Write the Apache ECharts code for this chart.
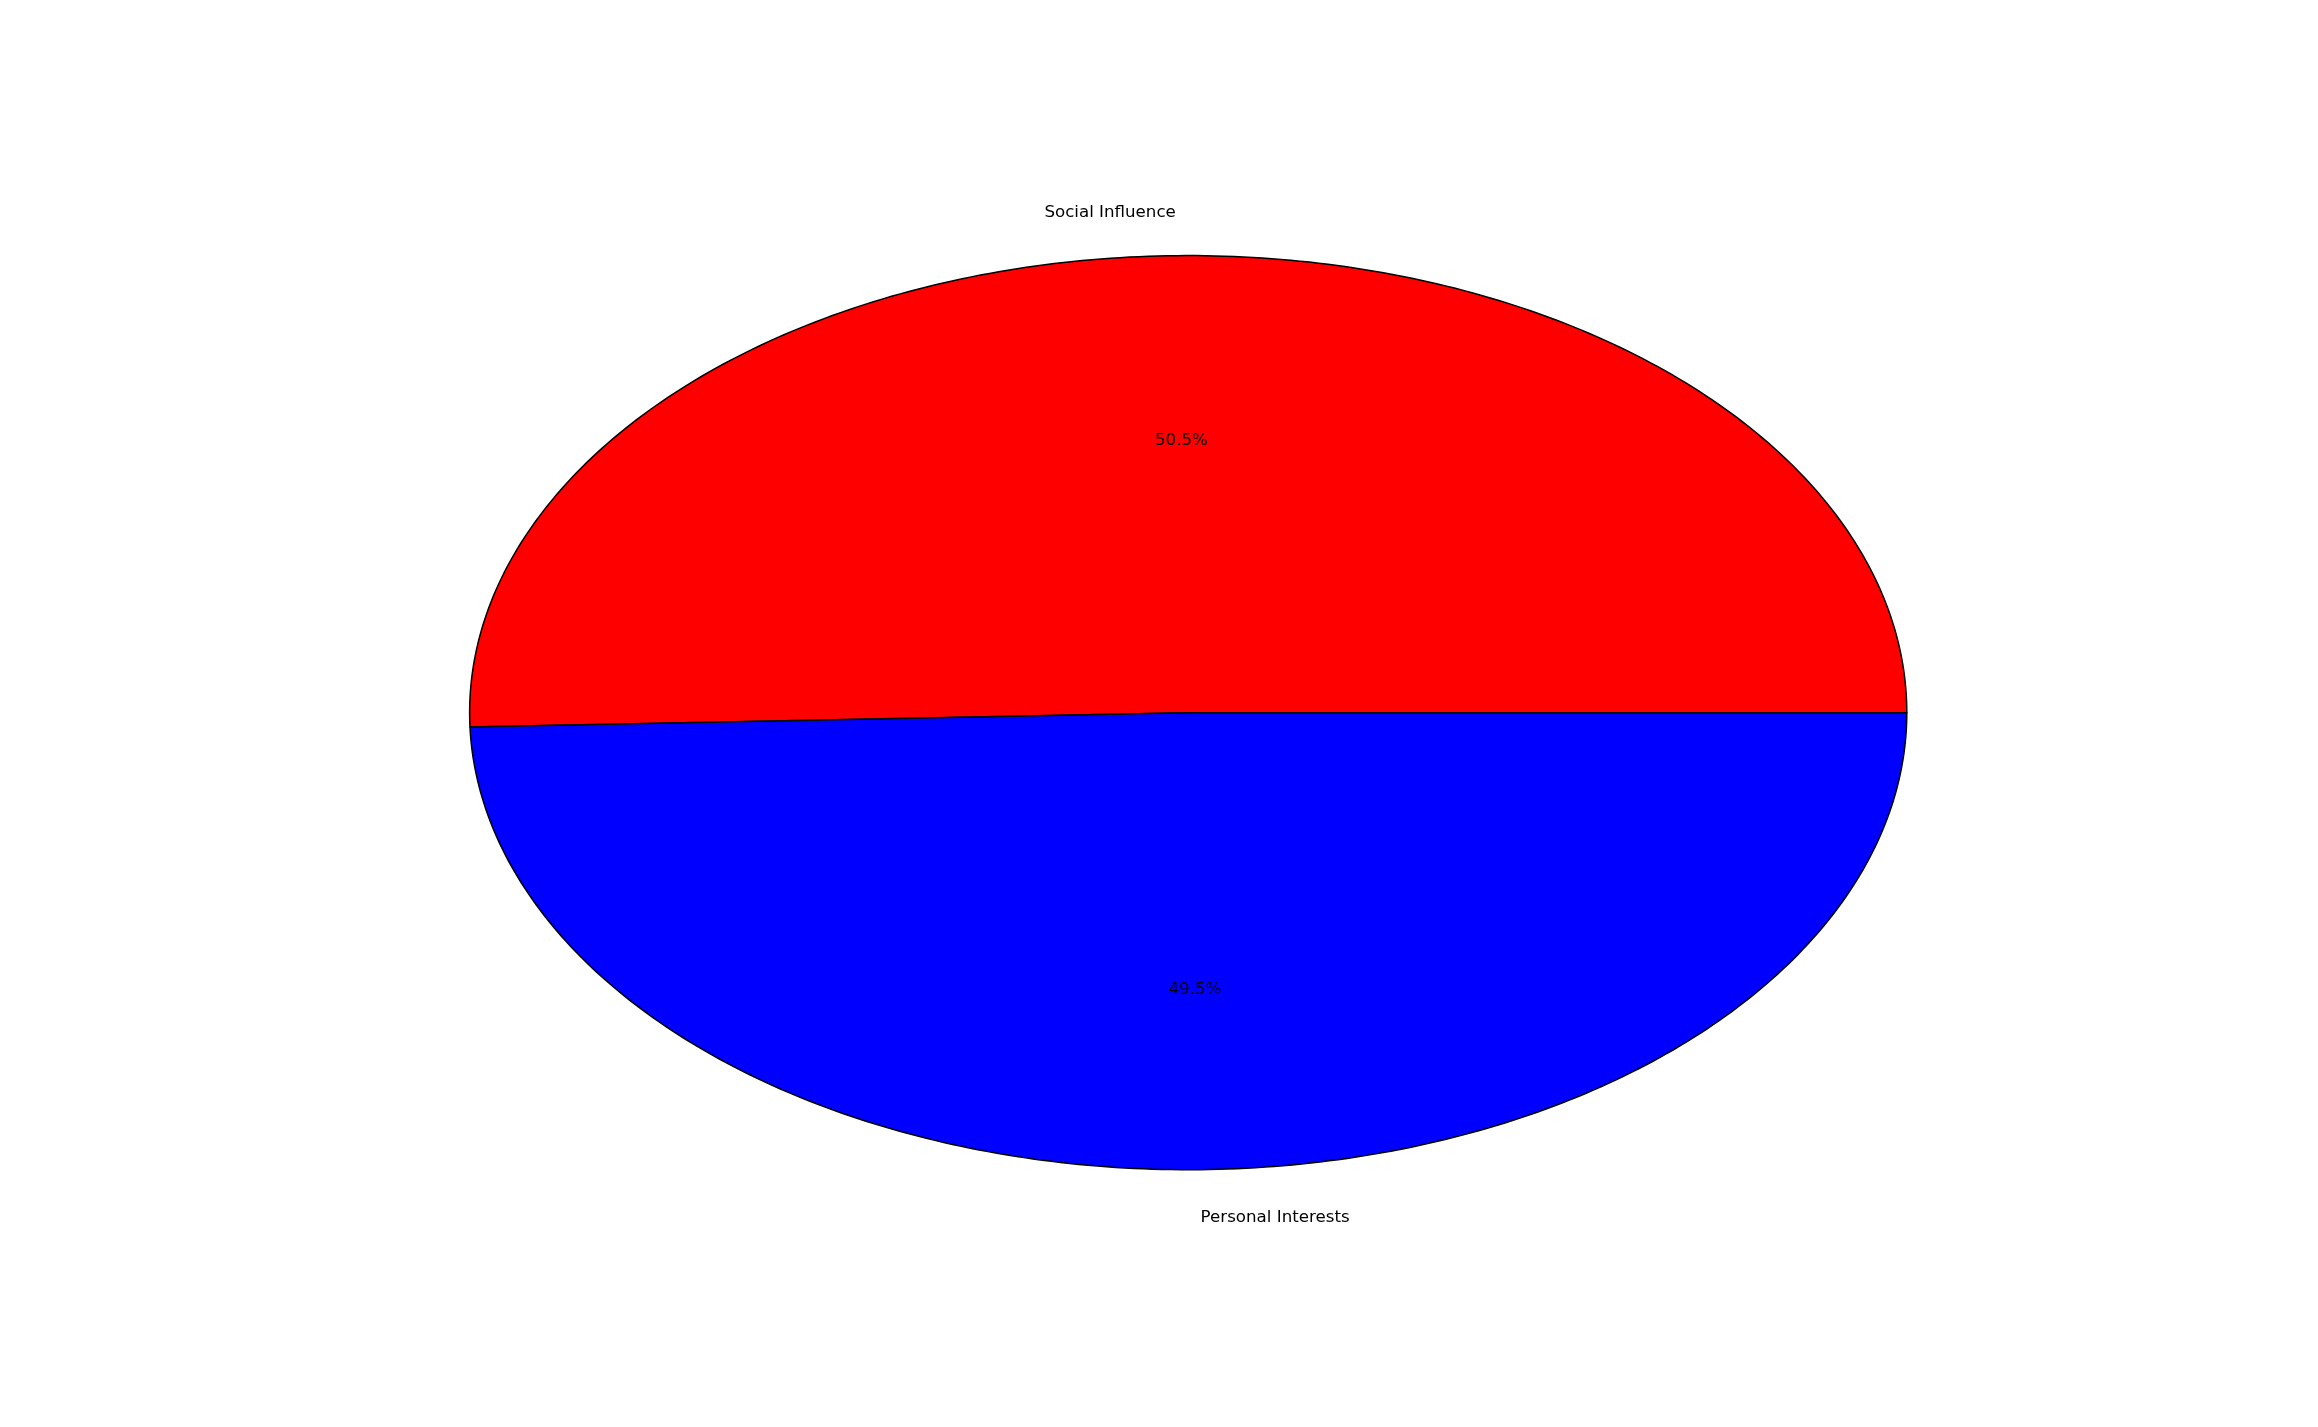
<!DOCTYPE html>
<html>
<head>
<meta charset="utf-8">
<script src="https://cdn.jsdelivr.net/npm/echarts@6/dist/echarts.min.js"></script>
<style>
html,body{margin:0;padding:0;background:#fff;}
#chart{width:2318px;height:1427px;}
</style>
</head>
<body>
<div id="chart"></div>
<script>
const categories = ['Social Influence', 'Personal Interests'];
const values = [50.5, 49.5];
const colors = ['#ff0000', '#0000ff'];

const total = values.reduce((a, b) => a + b, 0);
const FONT = 'DejaVu Sans';

const chart = echarts.init(document.getElementById('chart'), null, {renderer: 'canvas'});

function renderItem(params, api) {
  const i = params.dataIndex;
  const v = api.value(0);
  let before = 0;
  for (let k = 0; k < i; k++) before += values[k];
  const start = before / total * 2 * Math.PI;
  const end = start + v / total * 2 * Math.PI;
  const w = api.getWidth(), h = api.getHeight();
  const cx = w * 0.5126, cy = h * 0.4994;
  const rx = w * 0.31, ry = h * 0.3203;
  const N = 240;
  const pts = [[cx, cy]];
  for (let k = 0; k <= N; k++) {
    const a = start + (end - start) * k / N;
    pts.push([cx + rx * Math.cos(a), cy - ry * Math.sin(a)]);
  }
  const mid = (start + end) / 2;
  const dy = 2.5;
  const lx = cx + 1.1 * rx * Math.cos(mid);
  const ly = cy - 1.1 * ry * Math.sin(mid) + dy;
  const px = cx + 0.6 * rx * Math.cos(mid);
  const py = cy - 0.6 * ry * Math.sin(mid) + dy;
  return {
    type: 'group',
    children: [
      {
        type: 'polygon',
        shape: {points: pts},
        style: {fill: colors[i], stroke: '#000', lineWidth: 1.5, lineJoin: 'round'}
      },
      {
        type: 'text',
        x: px, y: py,
        style: {
          text: (v / total * 100).toFixed(1) + '%',
          font: '16.67px "' + FONT + '"',
          fill: '#000', align: 'center', verticalAlign: 'middle'
        }
      },
      {
        type: 'text',
        x: lx, y: ly,
        style: {
          text: categories[i],
          font: '16.67px "' + FONT + '"',
          fill: '#000',
          align: Math.cos(mid) < 0 ? 'right' : 'left',
          verticalAlign: 'middle'
        }
      }
    ]
  };
}

chart.setOption({
  backgroundColor: '#ffffff',
  animation: false,
  series: [{
    type: 'custom',
    coordinateSystem: 'none',
    renderItem: renderItem,
    data: values.map((v, i) => ({name: categories[i], value: [v]}))
  }]
});
</script>
</body>
</html>
